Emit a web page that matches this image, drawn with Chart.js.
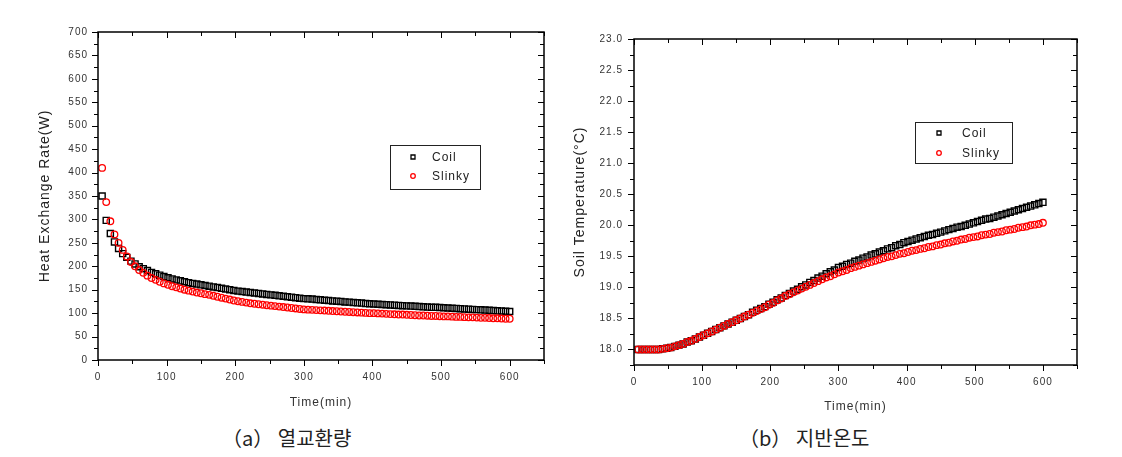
<!DOCTYPE html>
<html>
<head>
<meta charset="utf-8">
<script src="https://cdn.jsdelivr.net/npm/chart.js@4.4.1/dist/chart.umd.min.js"></script>
<style>
html, body { margin: 0; padding: 0; background: #fff; }
body { width: 1122px; height: 457px; position: relative; overflow: hidden; }
#chartA { position: absolute; left: 0; top: 0; }
#chartB { position: absolute; left: 560px; top: 0; }
.cap { position: absolute; top: 425px; font-size: 20px; line-height: 26px; color: #222;
       font-family: "Noto Sans CJK KR", sans-serif; white-space: nowrap; }
</style>
</head>
<body>
<canvas id="chartA" width="560" height="420"></canvas>
<canvas id="chartB" width="562" height="420"></canvas>
<div class="cap" style="left:222px">（a） 열교환량</div>
<div class="cap" style="left:739px">（b） 지반온도</div>
<script>
// 시간 (min)
const TIME = [
  6, 12, 18, 24, 30, 36, 42, 48, 54, 60,
  66, 72, 78, 84, 90, 96, 102, 108, 114, 120,
  126, 132, 138, 144, 150, 156, 162, 168, 174, 180,
  186, 192, 198, 204, 210, 216, 222, 228, 234, 240,
  246, 252, 258, 264, 270, 276, 282, 288, 294, 300,
  306, 312, 318, 324, 330, 336, 342, 348, 354, 360,
  366, 372, 378, 384, 390, 396, 402, 408, 414, 420,
  426, 432, 438, 444, 450, 456, 462, 468, 474, 480,
  486, 492, 498, 504, 510, 516, 522, 528, 534, 540,
  546, 552, 558, 564, 570, 576, 582, 588, 594, 600
];

// (a) 열교환량 (W)
const HX_COIL = [
  350, 298, 270, 252, 238, 227, 219, 211, 205, 199,
  195, 191, 187, 184, 181, 178, 175.5, 173, 171, 169,
  167, 165, 163.5, 162, 160.5, 159, 157.5, 156, 154.5, 153,
  151.5, 150, 148.5, 147, 146, 145, 144, 143, 142, 141,
  140, 139, 138, 137, 136, 135, 134, 133, 132, 131,
  130.5, 130, 129, 128.5, 127.5, 127, 126, 125.5, 125, 124,
  123.5, 122.5, 122, 121.5, 120.5, 120, 119.5, 119, 118.5, 118,
  117.5, 117, 116.5, 116, 115.5, 115, 114.5, 114, 113.5, 113,
  112.5, 112.5, 112, 111.5, 111, 110.5, 110, 109.5, 109, 108.5,
  108, 107.5, 107, 106.5, 106, 105.5, 105, 104.5, 104, 103.5
];
const HX_SLINKY = [
  410, 337, 296, 268, 250, 235, 221, 209, 200, 192,
  186, 180, 175, 171, 167, 163.5, 160.5, 157.5, 155, 152.5,
  150, 148, 146, 144, 142.5, 140.5, 139, 137, 135, 133,
  131, 129, 127, 125.5, 124, 122.5, 121, 120, 119, 118,
  117, 116, 115, 114, 113, 112, 111, 110, 109, 108,
  107.5, 107, 106.5, 106, 105.5, 105, 104.5, 104, 103.5, 103,
  102.5, 102, 101.5, 101, 100.5, 100, 100, 99.5, 99, 98.5,
  98, 97.5, 97, 97, 96.5, 96, 95.5, 95, 95, 94.5,
  94, 94, 93.5, 93, 93, 92.5, 92, 92, 91.5, 91,
  91, 90.5, 90, 90, 89.5, 89, 89, 88.5, 88, 88
];

// (b) 지반온도 (°C)
const SOIL_COIL = [
  18.00, 18.00, 18.00, 18.00, 18.00, 18.00, 18.01, 18.02, 18.03, 18.05,
  18.07, 18.09, 18.12, 18.14, 18.17, 18.20, 18.23, 18.26, 18.29, 18.32,
  18.35, 18.38, 18.41, 18.44, 18.47, 18.50, 18.53, 18.56, 18.60, 18.63,
  18.66, 18.69, 18.73, 18.76, 18.80, 18.83, 18.87, 18.90, 18.94, 18.97,
  19.01, 19.04, 19.08, 19.11, 19.15, 19.18, 19.22, 19.25, 19.28, 19.32,
  19.34, 19.37, 19.39, 19.42, 19.44, 19.47, 19.49, 19.52, 19.54, 19.57,
  19.59, 19.62, 19.64, 19.67, 19.69, 19.72, 19.74, 19.76, 19.78, 19.80,
  19.82, 19.84, 19.85, 19.87, 19.89, 19.91, 19.93, 19.95, 19.97, 19.98,
  20.00, 20.02, 20.04, 20.06, 20.08, 20.10, 20.11, 20.13, 20.15, 20.17,
  20.19, 20.21, 20.23, 20.25, 20.27, 20.29, 20.31, 20.33, 20.35, 20.37
];
const SOIL_SLINKY = [
  18.00, 18.00, 18.00, 18.00, 18.00, 18.00, 18.01, 18.02, 18.03, 18.05,
  18.07, 18.09, 18.12, 18.14, 18.17, 18.20, 18.23, 18.26, 18.29, 18.32,
  18.35, 18.38, 18.41, 18.44, 18.47, 18.50, 18.53, 18.56, 18.59, 18.62,
  18.65, 18.68, 18.72, 18.75, 18.79, 18.82, 18.86, 18.89, 18.92, 18.95,
  18.98, 19.01, 19.04, 19.07, 19.10, 19.13, 19.16, 19.18, 19.21, 19.24,
  19.26, 19.28, 19.31, 19.33, 19.35, 19.37, 19.39, 19.41, 19.43, 19.45,
  19.47, 19.49, 19.50, 19.52, 19.54, 19.55, 19.57, 19.59, 19.60, 19.62,
  19.63, 19.65, 19.66, 19.68, 19.69, 19.71, 19.72, 19.74, 19.75, 19.77,
  19.78, 19.80, 19.81, 19.82, 19.84, 19.85, 19.86, 19.88, 19.89, 19.90,
  19.92, 19.93, 19.94, 19.96, 19.97, 19.98, 20.00, 20.01, 20.02, 20.04
];

const SERIES = ['Coil', 'Slinky'];
const X_TITLE = 'Time(min)';
const Y_TITLE_A = 'Heat Exchange Rate(W)';
const Y_TITLE_B = 'Soil Temperature(°C)';

const C_COIL = '#000000';
const C_SLINKY = '#ff0000';

Chart.defaults.font.family = '"Liberation Sans", Arial, sans-serif';
Chart.defaults.color = '#333';

// 글자 간격 (원본의 넓은 자간)
const spacing = {
  id: 'spacing',
  beforeLayout(chart) { chart.ctx.letterSpacing = '1px'; },
  beforeDraw(chart) { chart.ctx.letterSpacing = '1px'; }
};

// 테두리 + 눈금 (아래/왼쪽은 바깥, 위/오른쪽은 안쪽)
const frameTicks = {
  id: 'frameTicks',
  afterDraw(chart) {
    const { ctx, chartArea: a, scales: { x, y } } = chart;
    ctx.save();
    ctx.strokeStyle = '#000';
    ctx.lineWidth = 1;
    ctx.beginPath();
    x.ticks.forEach(t => {
      const px = Math.round(x.getPixelForValue(t.value)) + 0.5;
      const len = t.label !== '' ? 6 : 4;
      ctx.moveTo(px, a.bottom); ctx.lineTo(px, a.bottom + len);
      ctx.moveTo(px, a.top); ctx.lineTo(px, a.top + len);
    });
    y.ticks.forEach(t => {
      const py = Math.round(y.getPixelForValue(t.value)) + 0.5;
      const len = t.label !== '' ? 6 : 4;
      ctx.moveTo(a.left - len, py); ctx.lineTo(a.left, py);
      ctx.moveTo(a.right - len, py); ctx.lineTo(a.right, py);
    });
    ctx.stroke();
    ctx.lineWidth = 1.5;
    ctx.strokeRect(a.left, a.top, a.right - a.left, a.bottom - a.top);
    ctx.restore();
  }
};

// 박스 범례
const boxLegend = {
  id: 'boxLegend',
  afterDraw(chart, args, o) {
    const ctx = chart.ctx;
    const [bx, by, bw, bh] = o.box;
    ctx.save();
    ctx.fillStyle = '#fff';
    ctx.fillRect(bx, by, bw, bh);
    ctx.strokeStyle = '#222';
    ctx.lineWidth = 1;
    ctx.strokeRect(bx + 0.5, by + 0.5, bw, bh);
    ctx.font = '12px "Liberation Sans", Arial, sans-serif';
    ctx.letterSpacing = '1px';
    ctx.textBaseline = 'middle';
    chart.data.datasets.forEach((ds, i) => {
      const ry = o.rows[i];
      ctx.strokeStyle = ds.borderColor;
      ctx.lineWidth = 1.3;
      ctx.beginPath();
      if (ds.pointStyle === 'rect') ctx.rect(o.symX - 2, ry - 2, 4, 4);
      else ctx.arc(o.symX, ry, 2.3, 0, Math.PI * 2);
      ctx.stroke();
      ctx.fillStyle = '#222';
      ctx.fillText(ds.label, o.textX, ry + 0.5);
    });
    ctx.restore();
  }
};

function pts(vals) {
  return TIME.map((t, i) => ({ x: t, y: vals[i] }));
}

function datasets(coil, slinky) {
  return [
    { label: SERIES[0], data: pts(coil), pointStyle: 'rect', pointRadius: 4.3,
      borderColor: C_COIL, backgroundColor: 'rgba(0,0,0,0)', pointBorderWidth: 1.4, order: 2 },
    { label: SERIES[1], data: pts(slinky), pointStyle: 'circle', pointRadius: 3.3,
      borderColor: C_SLINKY, backgroundColor: 'rgba(0,0,0,0)', pointBorderWidth: 1.3, order: 1 }
  ];
}

function xAxis(height, labelPad, titlePad) {
  return {
    type: 'linear', position: 'bottom', min: 0, max: 650,
    grid: { display: false, drawTicks: false }, border: { display: false },
    ticks: { stepSize: 50, autoSkip: false, maxRotation: 0, padding: labelPad,
             font: { size: 10 }, color: '#333',
             callback: v => (v % 100 === 0 ? String(v) : '') },
    title: { display: true, text: X_TITLE, font: { size: 12 }, color: '#333',
             padding: { top: 0, bottom: titlePad } },
    afterFit: s => { s.height = height; }
  };
}

function yAxis(min, max, step, cb, width, labelPad, title, titlePad) {
  return {
    type: 'linear', position: 'left', min: min, max: max,
    grid: { display: false, drawTicks: false }, border: { display: false },
    ticks: { stepSize: step, autoSkip: false, padding: labelPad,
             font: { size: 10 }, color: '#333', callback: cb },
    title: { display: true, text: title, font: { size: 14 }, color: '#222',
             padding: { top: titlePad, bottom: 0 } },
    afterFit: s => { s.width = width; }
  };
}

const common = {
  responsive: false, animation: false, devicePixelRatio: 1,
  events: []
};

new Chart(document.getElementById('chartA'), {
  type: 'scatter',
  data: { datasets: datasets(HX_COIL, HX_SLINKY) },
  options: Object.assign({}, common, {
    layout: { padding: { top: 32, right: 16, left: 0, bottom: 0 } },
    scales: {
      x: xAxis(60, 11, 10),
      y: yAxis(0, 700, 25, v => (v % 50 === 0 ? String(v) : ''), 98, 10, Y_TITLE_A, 37)
    },
    plugins: {
      legend: { display: false }, tooltip: { enabled: false },
      boxLegend: { box: [390, 145, 90, 44], rows: [157, 176], symX: 413, textX: 432 }
    }
  }),
  plugins: [spacing, frameTicks, boxLegend]
});

new Chart(document.getElementById('chartB'), {
  type: 'scatter',
  data: { datasets: datasets(SOIL_COIL, SOIL_SLINKY) },
  options: Object.assign({}, common, {
    layout: { padding: { top: 39, right: 45, left: 0, bottom: 0 } },
    scales: {
      x: xAxis(55, 11, 6),
      y: yAxis(17.75, 23, 0.25, v => {
        const h = v * 2;
        return Math.abs(h - Math.round(h)) < 1e-6 ? v.toFixed(1) : '';
      }, 74, 11, Y_TITLE_B, 12)
    },
    plugins: {
      legend: { display: false }, tooltip: { enabled: false },
      boxLegend: { box: [355, 122, 97, 41], rows: [133, 153], symX: 379, textX: 402 }
    }
  }),
  plugins: [spacing, frameTicks, boxLegend]
});
</script>
</body>
</html>
